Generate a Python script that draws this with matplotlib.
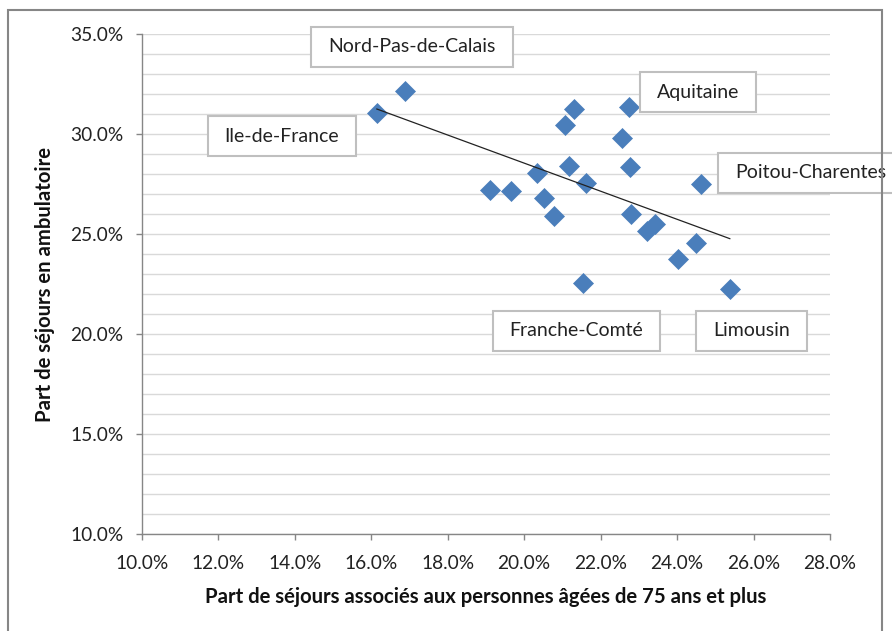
import numpy as np
import matplotlib
matplotlib.use("Agg")
import matplotlib.pyplot as plt
from matplotlib.patches import Rectangle
from matplotlib.path import Path
from matplotlib.ticker import FuncFormatter, MultipleLocator

plt.rcParams['font.family'] = ['Lato', 'DejaVu Sans']

# Data (percent)
x_vals = [16.15, 16.89, 19.11, 19.66, 20.34, 20.52, 20.78, 21.07, 21.30, 21.17, 21.61,
          21.53, 22.55, 22.74, 22.76, 22.79, 23.21, 23.42, 24.02, 24.49, 24.62, 25.38]
y_vals = [31.03, 32.15, 27.20, 27.15, 28.03, 26.82, 25.92, 30.47, 31.25, 28.40, 27.53,
          22.53, 29.82, 31.33, 28.37, 26.00, 25.17, 25.48, 23.75, 24.53, 27.48, 22.23]

labels = ["Nord-Pas-de-Calais", "Ile-de-France", "Aquitaine", "Poitou-Charentes",
          "Franche-Comté", "Limousin"]
label_pos = [(17.07, 34.35), (13.67, 29.9), (24.55, 32.08), (27.5, 28.05),
             (21.37, 20.15), (25.94, 20.15)]

x_label = "Part de séjours associés aux personnes âgées de 75 ans et plus"
y_label = "Part de séjours en ambulatoire"

W, H = 892, 631
fig = plt.figure(figsize=(W / 100, H / 100), dpi=100)
ax = fig.add_axes([141.7 / W, 1 - 534 / H, (830 - 141.7) / W, (534 - 34) / H])

ax.set_xlim(10, 28)
ax.set_ylim(10, 35)

# gridlines every 1%
ax.yaxis.set_major_locator(MultipleLocator(5))
ax.yaxis.set_minor_locator(MultipleLocator(1))
ax.xaxis.set_major_locator(MultipleLocator(2))
ax.grid(axis='y', which='both', color='#d9d9d9', linewidth=1.0)
ax.set_axisbelow(True)

fmt = FuncFormatter(lambda v, p: f"{v:.1f}%")
ax.xaxis.set_major_formatter(fmt)
ax.yaxis.set_major_formatter(fmt)

for s in ['top', 'right']:
    ax.spines[s].set_visible(False)
for s in ['left', 'bottom']:
    ax.spines[s].set_color('#868686')
    ax.spines[s].set_linewidth(1.0)

ax.tick_params(axis='both', which='major', direction='out', length=4, width=1.0,
               color='#868686', labelsize=13.8, labelcolor='#222222', pad=9)
ax.tick_params(axis='x', which='major', pad=11)
ax.tick_params(axis='y', which='minor', length=0)

# scatter
ax.plot(x_vals, y_vals, linestyle='none', marker='D', markersize=10.5,
        markerfacecolor='#4a7ebb', markeredgecolor='#4a7ebb', markeredgewidth=0.5,
        zorder=3, clip_on=False)

# trend line
xa = np.array(x_vals)
ya = np.array(y_vals)
m, b = np.polyfit(xa, ya, 1)
xl = np.array([xa.min(), xa.max()])
ax.plot(xl, m * xl + b, color='#222222', linewidth=0.9, zorder=4)


def label_box(x0, y0, width, height, mutation_size):
    # different horizontal / vertical padding (pixels)
    px, py = 17.0, 11.5
    x0 -= px
    y0 -= py
    x1 = x0 + width + 2 * px
    y1 = y0 + height + 2 * py
    return Path([(x0, y0), (x1, y0), (x1, y1), (x0, y1), (x0, y0)], closed=True)


# data labels
for lab, (lx, ly) in zip(labels, label_pos):
    ax.text(lx, ly, lab, ha='center', va='center', fontsize=14, color='#222222',
            bbox=dict(boxstyle=label_box, fc='white', ec='#bfbfbf', lw=1.5),
            zorder=6, clip_on=False)

ax.set_xlabel(x_label, fontsize=14.6, fontweight='bold', labelpad=11, color='#111111')
ax.set_ylabel(y_label, fontsize=14.6, fontweight='bold', labelpad=11, color='#111111')

# outer chart border
fig.patches.append(Rectangle((8 / W, -0.05), (882 - 8) / W, 1.05 - 10 / H,
                             transform=fig.transFigure, fill=False,
                             edgecolor='#868686', linewidth=1.5, zorder=0))

fig.savefig("out.png", dpi=100)
